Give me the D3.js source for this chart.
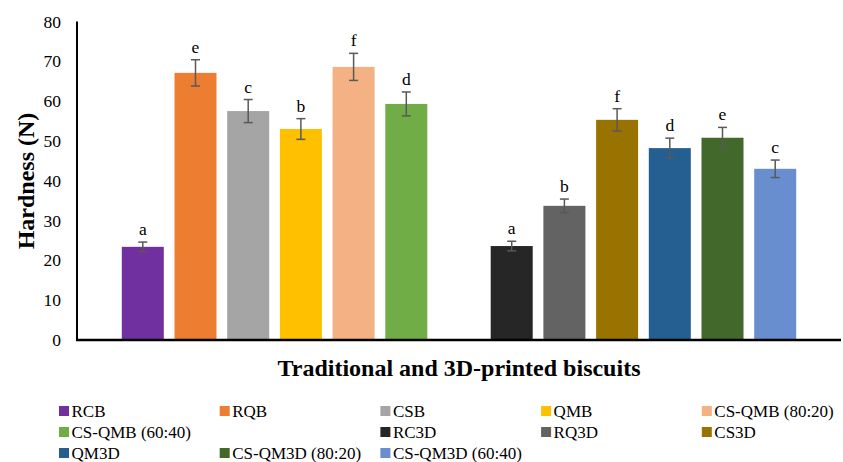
<!DOCTYPE html>
<html lang="en">
<head>
<meta charset="UTF-8" />
<title>Hardness of traditional and 3D-printed biscuits</title>
<script src="https://d3js.org/d3.v7.min.js"></script>
<style>
  body {
    margin: 0;
    background: #fff;
  }
  svg text { font-family: 'Liberation Serif', 'Times New Roman', serif; fill: #000; }
  .tick-label { font-size: 17.5px; }
  .axis-title { font-size: 24px; font-weight: bold; }
  .letter { font-size: 17.5px; }
  .legend-text { font-size: 17px; }
</style>
</head>
<body>
<div id="chart"></div>
<script>
const series = ["RCB", "RQB", "CSB", "QMB", "CS-QMB (80:20)", "CS-QMB (60:40)",
  "RC3D", "RQ3D", "CS3D", "QM3D", "CS-QM3D (80:20)", "CS-QM3D (60:40)"];
const hardness = [23.4, 67.1, 57.5, 53.0, 68.6, 59.3, 23.6, 33.7, 55.3, 48.2, 50.8, 43.0];
const errors = [1.2, 3.3, 2.9, 2.6, 3.4, 3.0, 1.2, 1.7, 2.8, 2.5, 2.6, 2.2];
const letters = ["a", "e", "c", "b", "f", "d", "a", "b", "f", "d", "e", "c"];
const colors = ["#7030A0", "#ED7D31", "#A5A5A5", "#FFC000", "#F4B183", "#70AD47",
  "#262626", "#636363", "#997300", "#255E91", "#43682B", "#698ED0"];
const yTicks = [0, 10, 20, 30, 40, 50, 60, 70, 80];

const width = 843, height = 462;
const spacer = " ";  // empty slot between the two groups (also a blank legend entry)
const slots = [...series.slice(0, 6), spacer, ...series.slice(6)];

const data = series.map((name, i) => ({
  name, value: hardness[i], err: errors[i], letter: letters[i], color: colors[i]
}));

const svg = d3.select("#chart").append("svg")
  .attr("width", width)
  .attr("height", height)
  .attr("font-family", "'Liberation Serif', 'Times New Roman', serif");

const x = d3.scaleBand()
  .domain(slots)
  .range([77, 841])
  .paddingInner(0.203)
  .paddingOuter(0.85);

const y = d3.scaleLinear()
  .domain([0, 80])
  .range([340, 21.5]);

// bars
svg.selectAll("rect.bar")
  .data(data)
  .enter().append("rect")
  .attr("class", "bar")
  .attr("x", d => x(d.name))
  .attr("y", d => y(d.value))
  .attr("width", x.bandwidth())
  .attr("height", d => y(0) - y(d.value))
  .attr("fill", d => d.color);

// error bars
const eb = svg.selectAll("g.err")
  .data(data)
  .enter().append("g")
  .attr("class", "err")
  .attr("stroke", "#595959")
  .attr("stroke-width", 1.5);

const cx = d => x(d.name) + x.bandwidth() / 2;
eb.append("line")
  .attr("x1", cx).attr("x2", cx)
  .attr("y1", d => y(d.value + d.err))
  .attr("y2", d => y(d.value - d.err));
eb.append("line")
  .attr("x1", d => cx(d) - 4.5).attr("x2", d => cx(d) + 4.5)
  .attr("y1", d => y(d.value + d.err)).attr("y2", d => y(d.value + d.err));
eb.append("line")
  .attr("x1", d => cx(d) - 4.5).attr("x2", d => cx(d) + 4.5)
  .attr("y1", d => y(d.value - d.err)).attr("y2", d => y(d.value - d.err));

// significance letters
svg.selectAll("text.letter")
  .data(data)
  .enter().append("text")
  .attr("class", "letter")
  .attr("x", cx)
  .attr("y", d => y(d.value + d.err) - 7)
  .attr("text-anchor", "middle")
  .text(d => d.letter);

// y axis
const yAxis = d3.axisLeft(y).tickValues(yTicks).tickSize(0).tickPadding(16);
const ya = svg.append("g")
  .attr("transform", "translate(77,0)")
  .call(yAxis)
  .attr("font-family", null)
  .attr("font-size", null);
ya.select(".domain").remove();
ya.selectAll("text").attr("class", "tick-label");

svg.append("line")
  .attr("x1", 77).attr("x2", 77)
  .attr("y1", y(80)).attr("y2", y(0))
  .attr("stroke", "#000").attr("stroke-width", 2);
svg.append("line")
  .attr("x1", 76).attr("x2", 841)
  .attr("y1", y(0)).attr("y2", y(0))
  .attr("stroke", "#000").attr("stroke-width", 2.5);

// titles
svg.append("text")
  .attr("class", "axis-title")
  .attr("transform", "translate(34,181) rotate(-90)")
  .attr("text-anchor", "middle")
  .text("Hardness (N)");

svg.append("text")
  .attr("class", "axis-title")
  .attr("x", 459)
  .attr("y", 376)
  .attr("text-anchor", "middle")
  .text("Traditional and 3D-printed biscuits");

// legend (5 columns, blank entry for the spacer slot)
const legendItems = slots.map(s => ({ name: s, color: s === spacer ? null : colors[series.indexOf(s)] }));
const lg = svg.selectAll("g.legend")
  .data(legendItems)
  .enter().append("g")
  .attr("class", "legend")
  .attr("transform", (d, i) => `translate(${59 + (i % 5) * 160.7},${411 + Math.floor(i / 5) * 21})`)
  .filter(d => d.color);

lg.append("rect")
  .attr("x", 0).attr("y", -5)
  .attr("width", 10).attr("height", 10)
  .attr("fill", d => d.color);
lg.append("text")
  .attr("class", "legend-text")
  .attr("x", 12.5)
  .attr("y", 5.5)
  .text(d => d.name);
</script>
</body>
</html>
